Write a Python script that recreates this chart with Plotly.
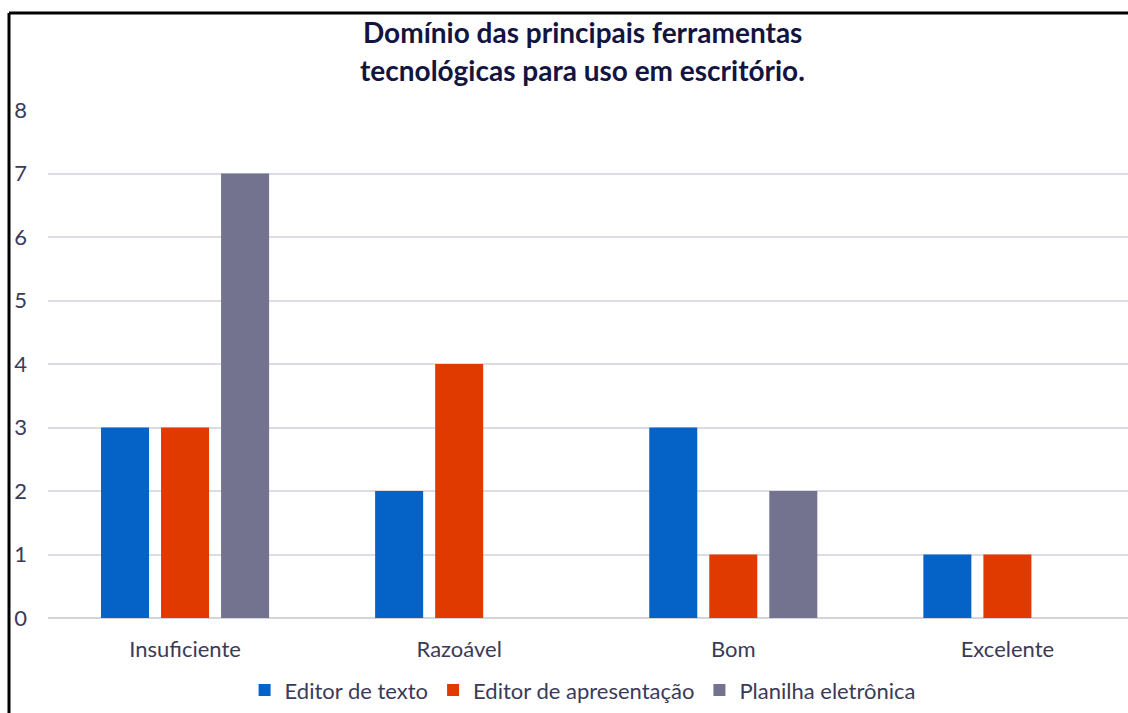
import plotly.graph_objects as go

categories = ["Insuficiente", "Razoável", "Bom", "Excelente"]
editor_texto = [3, 2, 3, 1]
editor_apresentacao = [3, 4, 1, 1]
planilha = [7, 0, 2, 0]
series_names = ["Editor de texto", "Editor de apresentação", "Planilha eletrônica"]
colors = ["#0563C8", "#E03A00", "#737390"]
title_lines = ["Domínio das principais ferramentas", "tecnológicas para uso em escritório."]

FONT = "Lato"
TXT = "#3a3a58"

fig = go.Figure()
for name, vals, c in zip(series_names, [editor_texto, editor_apresentacao, planilha], colors):
    fig.add_trace(go.Bar(x=categories, y=vals, name=name, marker=dict(color=c, line=dict(width=0))))

fig.update_layout(
    width=1128, height=713,
    margin=dict(l=48, r=0, t=110, b=95),
    paper_bgcolor="white", plot_bgcolor="white",
    barmode="group", bargap=0.343, bargroupgap=0.2,
    font=dict(family=FONT, size=22, color=TXT),
    showlegend=True,
    legend=dict(orientation="h", x=0.495, xanchor="center", y=-0.142, yanchor="middle",
                font=dict(size=22, color=TXT), itemwidth=30, traceorder="normal"),
    xaxis=dict(range=[-0.5, 3.44], showgrid=False, showline=False, zeroline=False,
               ticks="", ticklabelstandoff=16, tickfont=dict(size=22, color=TXT)),
    yaxis=dict(range=[0, 8], dtick=1, showgrid=True, gridcolor="#dcdce4", gridwidth=1.5,
               zeroline=True, zerolinecolor="#d4d4dc", zerolinewidth=2, showline=False,
               ticks="", ticklabelstandoff=20, tickfont=dict(size=22, color=TXT)),
)

for i, line in enumerate(title_lines):
    fig.add_annotation(text="<b>" + line + "</b>", xref="paper", yref="paper",
                       x=0.495, y=(618 - (32 + 38 * i)) / 508, xanchor="center", yanchor="middle",
                       showarrow=False, font=dict(family=FONT, size=28, color="#141440"))

# frame lines (top and left) of the cropped chart
x_left = (9 - 48) / 1080
y_top = (618 - 13) / 508
fig.add_shape(type="line", xref="paper", yref="paper", x0=x_left, x1=1.02, y0=y_top, y1=y_top,
              line=dict(color="black", width=3))
fig.add_shape(type="line", xref="paper", yref="paper", x0=x_left, x1=x_left, y0=y_top, y1=-0.2,
              line=dict(color="black", width=3))

fig.write_html("out.html", config={"displayModeBar": False},
               post_script="document.body.style.margin='0';document.body.style.overflow='hidden';")
